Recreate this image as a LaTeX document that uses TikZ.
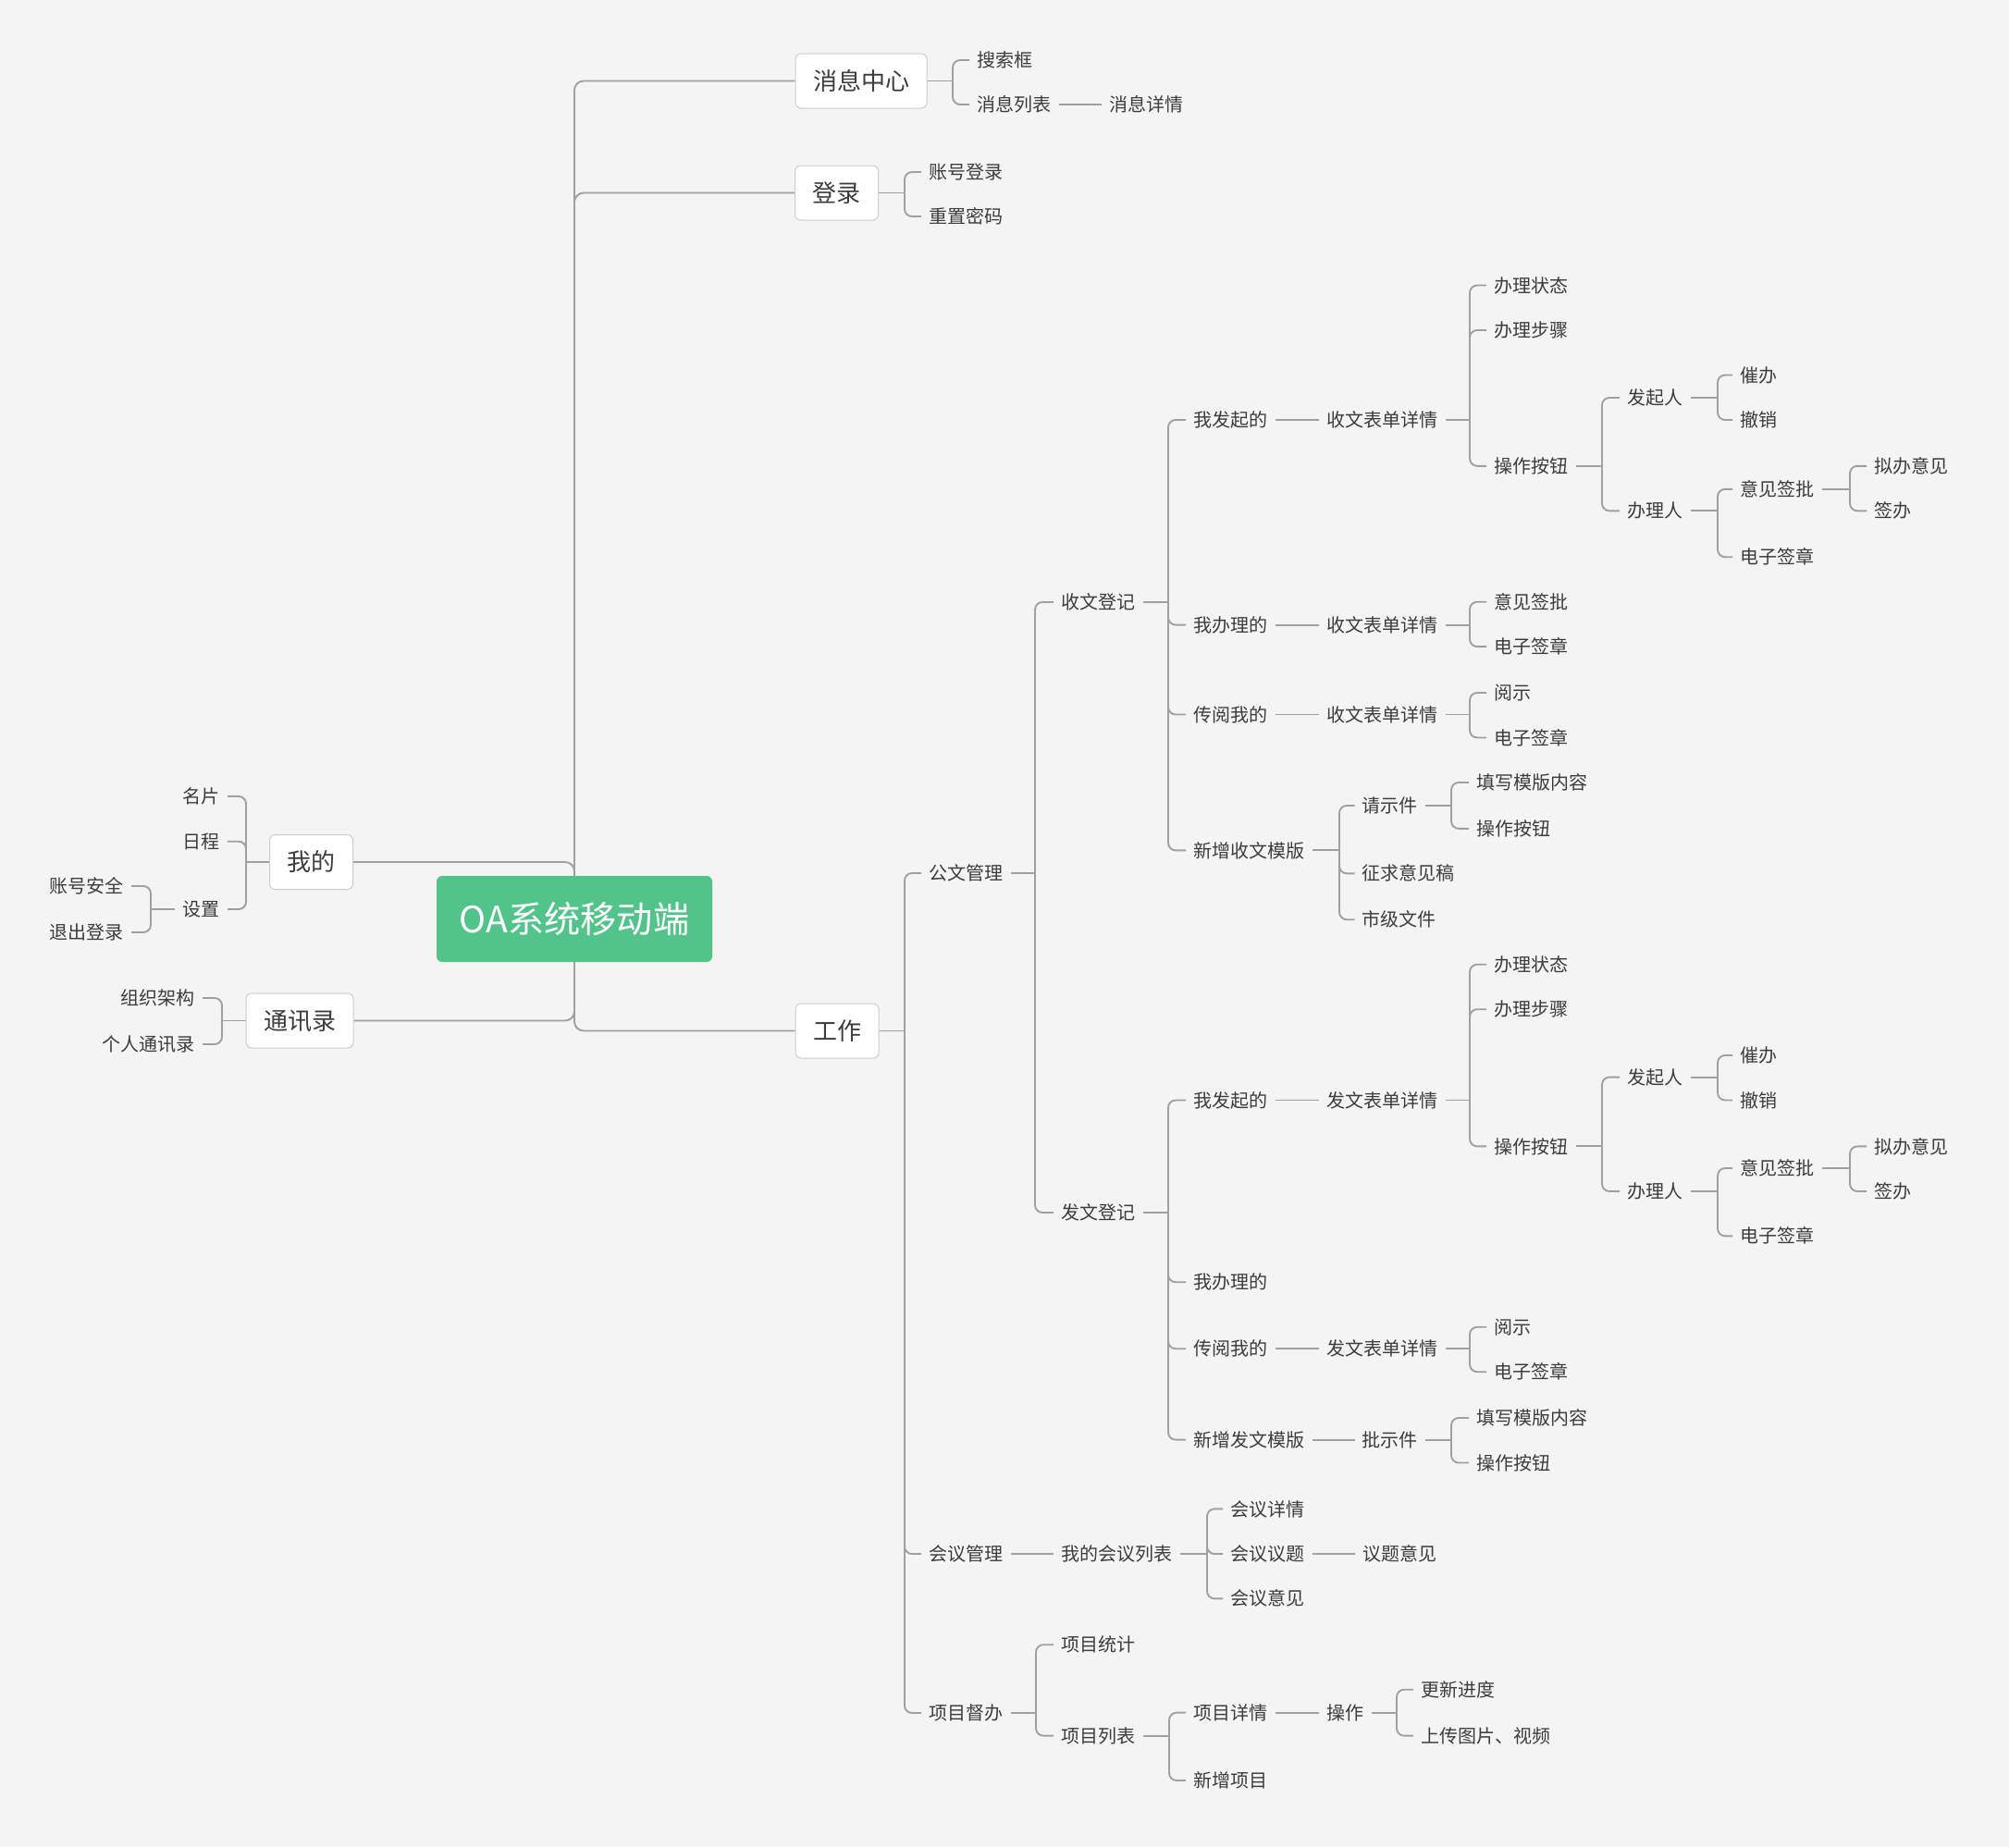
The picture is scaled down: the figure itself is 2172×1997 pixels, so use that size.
\documentclass[tikz,border=0pt]{standalone}
\usepackage{fontspec}
\setmainfont{Noto Sans CJK SC}
\usetikzlibrary{backgrounds}
\definecolor{pagebg}{HTML}{F4F4F4}
\definecolor{rootgreen}{HTML}{52C38B}
\definecolor{linegray}{HTML}{A0A0A0}
\definecolor{boxline}{HTML}{CDCDCD}
\definecolor{ink}{HTML}{3C3C3C}

% parent -> vertical bracket at x=#2 -> children (right-hand side)
\newcommand\fork[3]{%
  \draw[conn] (#1.east) -- (#2,0 |- #1.east);
  \foreach \c in {#3}{\draw[conn,rounded corners=4pt] (#2,0 |- #1.east) |- (\c.west);}}
% same, growing to the left
\newcommand\forkl[3]{%
  \draw[conn] (#1.west) -- (#2,0 |- #1.west);
  \foreach \c in {#3}{\draw[conn,rounded corners=4pt] (#2,0 |- #1.west) |- (\c.east);}}
\newcommand\joinline[2]{\draw[conn] (#1.east) -- (#2.west);}

\begin{document}
\begin{tikzpicture}[x=0.5pt,y=-0.5pt,
  conn/.style={draw=linegray,line width=0.95pt},
  leafbase/.style={font=\fontsize{10pt}{12pt}\selectfont,text=ink,inner xsep=4pt,inner ysep=0pt,
    text height=8.8pt,text depth=1.2pt},
  leaf/.style={leafbase,anchor=west,xshift=-4pt},
  leafl/.style={leafbase,anchor=east,xshift=4pt},
  topic/.style={draw=boxline,line width=0.5pt,fill=white,rounded corners=3pt,
    font=\fontsize{13pt}{15pt}\selectfont,text=ink,inner xsep=9.5pt,inner ysep=0pt,
    minimum height=29.5pt,text height=11.4pt,text depth=1.6pt},
  rootbox/.style={fill=rootgreen,rounded corners=3pt,text=white,
    font=\fontsize{19.6pt}{22pt}\selectfont,minimum width=149pt,minimum height=46.5pt,
    inner sep=0pt,text height=17.2pt,text depth=2.4pt}]
\useasboundingbox (0,0) rectangle (2172,1997);

% central topic and main branches
\node[rootbox] (root) at (621,993.5) {OA系统移动端};
\node[topic] (msg) at (931,87.5) {消息中心};
\node[topic] (login) at (904.5,208.5) {登录};
\node[topic] (work) at (905,1114.5) {工作};
\node[topic] (mine) at (336.5,932) {我的};
\node[topic] (contacts) at (324,1103.5) {通讯录};

% 消息中心 / 登录
\node[leaf] (s1) at (1056,65) {搜索框};
\node[leaf] (s2) at (1056,113) {消息列表};
\node[leaf] (s3) at (1199,113) {消息详情};
\node[leaf] (l1) at (1004,186) {账号登录};
\node[leaf] (l2) at (1004,234) {重置密码};

% 工作
\node[leaf] (gw) at (1004,944) {公文管理};
\node[leaf] (hy) at (1004,1680) {会议管理};
\node[leaf] (xm) at (1004,1852) {项目督办};
\node[leaf] (sw) at (1147,651) {收文登记};
\node[leaf] (fw) at (1147,1311) {发文登记};

% 收文登记
\node[leaf] (a1) at (1290,454) {我发起的};
\node[leaf] (a2) at (1290,675.6) {我办理的};
\node[leaf] (a3) at (1290,772.5) {传阅我的};
\node[leaf] (a4) at (1290,919.4) {新增收文模版};
\node[leaf] (a1d) at (1434,454) {收文表单详情};
\node[leaf] (a1s1) at (1615,308.5) {办理状态};
\node[leaf] (a1s2) at (1615,357) {办理步骤};
\node[leaf] (a1op) at (1615,503.8) {操作按钮};
\node[leaf] (a1f) at (1759,430) {发起人};
\node[leaf] (a1h) at (1759,552.3) {办理人};
\node[leaf] (a1f1) at (1881,405.5) {催办};
\node[leaf] (a1f2) at (1881,454) {撤销};
\node[leaf] (a1y) at (1881,528.8) {意见签批};
\node[leaf] (a1e) at (1881,602.2) {电子签章};
\node[leaf] (a1y1) at (2026,503.8) {拟办意见};
\node[leaf] (a1y2) at (2026,552.3) {签办};
\node[leaf] (a2d) at (1434,675.6) {收文表单详情};
\node[leaf] (a2y) at (1615,650.7) {意见签批};
\node[leaf] (a2e) at (1615,699.1) {电子签章};
\node[leaf] (a3d) at (1434,772.5) {收文表单详情};
\node[leaf] (a3r) at (1615,749) {阅示};
\node[leaf] (a3e) at (1615,797.5) {电子签章};
\node[leaf] (a4q) at (1472.5,871) {请示件};
\node[leaf] (a4z) at (1472.5,944.3) {征求意见稿};
\node[leaf] (a4s) at (1472.5,994.2) {市级文件};
\node[leaf] (a4q1) at (1596,846) {填写模版内容};
\node[leaf] (a4q2) at (1596,895.8) {操作按钮};

% 发文登记
\node[leaf] (b1) at (1290,1189.5) {我发起的};
\node[leaf] (b2) at (1290,1386.2) {我办理的};
\node[leaf] (b3) at (1290,1458.2) {传阅我的};
\node[leaf] (b4) at (1290,1556.6) {新增发文模版};
\node[leaf] (b1d) at (1434,1189.5) {发文表单详情};
\node[leaf] (b1s1) at (1615,1042.7) {办理状态};
\node[leaf] (b1s2) at (1615,1091.2) {办理步骤};
\node[leaf] (b1op) at (1615,1239.4) {操作按钮};
\node[leaf] (b1f) at (1759,1164.6) {发起人};
\node[leaf] (b1h) at (1759,1288) {办理人};
\node[leaf] (b1f1) at (1881,1141) {催办};
\node[leaf] (b1f2) at (1881,1189.5) {撤销};
\node[leaf] (b1y) at (1881,1263) {意见签批};
\node[leaf] (b1e) at (1881,1336.3) {电子签章};
\node[leaf] (b1y1) at (2026,1239.4) {拟办意见};
\node[leaf] (b1y2) at (2026,1288) {签办};
\node[leaf] (b3d) at (1434,1458.2) {发文表单详情};
\node[leaf] (b3r) at (1615,1434.7) {阅示};
\node[leaf] (b3e) at (1615,1483.2) {电子签章};
\node[leaf] (b4p) at (1472.5,1556.6) {批示件};
\node[leaf] (b4p1) at (1596,1533) {填写模版内容};
\node[leaf] (b4p2) at (1596,1581.5) {操作按钮};

% 会议管理
\node[leaf] (hyl) at (1147,1680) {我的会议列表};
\node[leaf] (h1) at (1330,1631.4) {会议详情};
\node[leaf] (h2) at (1330,1680) {会议议题};
\node[leaf] (h3) at (1330,1728.3) {会议意见};
\node[leaf] (h2y) at (1473,1680) {议题意见};

% 项目督办
\node[leaf] (x1) at (1147,1778.2) {项目统计};
\node[leaf] (x2) at (1147,1876.6) {项目列表};
\node[leaf] (x21) at (1290,1851.6) {项目详情};
\node[leaf] (x22) at (1290,1925) {新增项目};
\node[leaf] (x21o) at (1434,1851.6) {操作};
\node[leaf] (x21o1) at (1536,1826.7) {更新进度};
\node[leaf] (x21o2) at (1536,1876.6) {上传图片、视频};

% 我的 / 通讯录
\node[leafl] (m1) at (238,861) {名片};
\node[leafl] (m2) at (238,909.7) {日程};
\node[leafl] (m3) at (238,983) {设置};
\node[leafl] (m31) at (134,958) {账号安全};
\node[leafl] (m32) at (134,1008) {退出登录};
\node[leafl] (c1) at (211,1079) {组织架构};
\node[leafl] (c2) at (211,1129) {个人通讯录};

\begin{pgfonlayer}{background}
  \fill[pagebg] (0,0) rectangle (2172,1997);
  % trunk from the central topic
  \foreach \c in {msg,login,work}{\draw[conn,rounded corners=5pt] (root.center) |- (\c.west);}
  \foreach \c in {mine,contacts}{\draw[conn,rounded corners=5pt] (root.center) |- (\c.east);}

  \fork{msg}{1030}{s1,s2}
  \joinline{s2}{s3}
  \fork{login}{978}{l1,l2}
  \fork{work}{978}{gw,hy,xm}
  \fork{gw}{1119}{sw,fw}

  \fork{sw}{1263}{a1,a2,a3,a4}
  \joinline{a1}{a1d}
  \fork{a1d}{1589}{a1s1,a1s2,a1op}
  \fork{a1op}{1732}{a1f,a1h}
  \fork{a1f}{1857}{a1f1,a1f2}
  \fork{a1h}{1857}{a1y,a1e}
  \fork{a1y}{2000}{a1y1,a1y2}
  \joinline{a2}{a2d}
  \fork{a2d}{1589}{a2y,a2e}
  \joinline{a3}{a3d}
  \fork{a3d}{1589}{a3r,a3e}
  \fork{a4}{1448}{a4q,a4z,a4s}
  \fork{a4q}{1569}{a4q1,a4q2}

  \fork{fw}{1263}{b1,b2,b3,b4}
  \joinline{b1}{b1d}
  \fork{b1d}{1589}{b1s1,b1s2,b1op}
  \fork{b1op}{1732}{b1f,b1h}
  \fork{b1f}{1857}{b1f1,b1f2}
  \fork{b1h}{1857}{b1y,b1e}
  \fork{b1y}{2000}{b1y1,b1y2}
  \joinline{b3}{b3d}
  \fork{b3d}{1589}{b3r,b3e}
  \joinline{b4}{b4p}
  \fork{b4p}{1569}{b4p1,b4p2}

  \joinline{hy}{hyl}
  \fork{hyl}{1305}{h1,h2,h3}
  \joinline{h2}{h2y}

  \fork{xm}{1120}{x1,x2}
  \fork{x2}{1264}{x21,x22}
  \joinline{x21}{x21o}
  \fork{x21o}{1510}{x21o1,x21o2}

  \forkl{mine}{266}{m1,m2,m3}
  \forkl{m3}{163}{m31,m32}
  \forkl{contacts}{240}{c1,c2}
\end{pgfonlayer}
\end{tikzpicture}
\end{document}
